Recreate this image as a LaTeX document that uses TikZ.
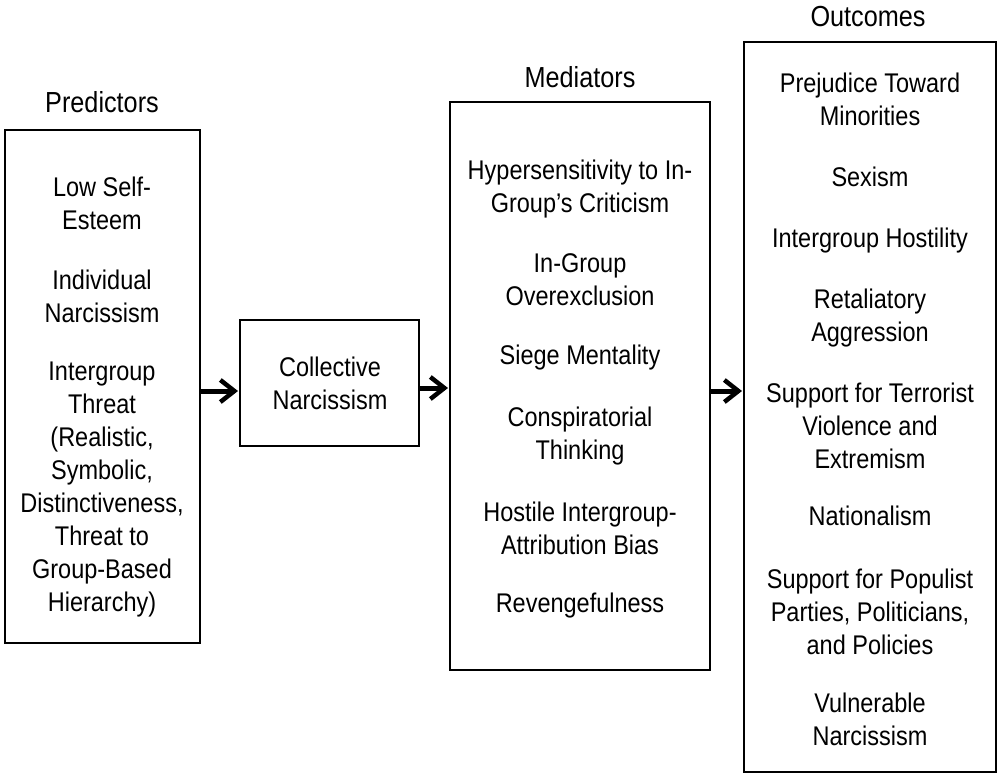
\documentclass[tikz,border=0pt]{standalone}
\usepackage{fontspec}
\setmainfont[FakeStretch=0.87]{Liberation Sans}
\usetikzlibrary{arrows.meta}

\begin{document}
\begin{tikzpicture}[
        x=1pt, y=-1pt,
        every node/.style={
            align=center,
            inner sep=0pt,
            font=\fontsize{27}{33}\selectfont
        },
        box/.style={
            draw,
            line width=2pt
        },
        title/.style={
            font=\fontsize{29}{33}\selectfont
        },
        arr/.style={
            line width=5pt,
            -{Straight Barb[length=14pt,width=22pt,line width=4.5pt]},
            shorten >=1pt
        }
    ]

        \useasboundingbox (0,0) rectangle (1000,779);

        % boxes
        \node[box, minimum width=195pt, minimum height=513pt] (pred) at (102.5,386.5) {};
        \node[box, minimum width=179pt, minimum height=126pt] (coll) at (329.5,383) {};
        \node[box, minimum width=260pt, minimum height=568pt] (med) at (580,386) {};
        \node[box, minimum width=252pt, minimum height=730pt] (out) at (870,407) {};

        % titles
        \node[title] (predtitle) at (102,102) {Predictors};
        \node[title] (medtitle) at (580,77) {Mediators};
        \node[title] (outtitle) at (868,17) {Outcomes};

        % predictors
        \node (selfesteem) at (102,203) {Low Self-\\Esteem};
        \node (indnarc) at (102,296) {Individual\\Narcissism};
        \node (threat) at (102,490) {Intergroup\\Threat\\(Realistic,\\Symbolic,\\Distinctiveness,\\Threat to\\Group-Based\\Hierarchy)};

        % collective narcissism
        \node (collnarc) at (330,383) {Collective\\Narcissism};

        % mediators
        \node (hyper) at (580,189) {Hypersensitivity to In-\\Group’s Criticism};
        \node (overex) at (580,280) {In-Group\\Overexclusion};
        \node (siege) at (580,358) {Siege Mentality};
        \node (consp) at (580,436) {Conspiratorial\\Thinking};
        \node (hostile) at (580,528) {Hostile Intergroup-\\Attribution Bias};
        \node (reveng) at (580,606) {Revengefulness};

        % outcomes
        \node (prej) at (870,99) {Prejudice Toward\\Minorities};
        \node (sexism) at (870,177) {Sexism};
        \node (hostility) at (870,241) {Intergroup Hostility};
        \node (retal) at (870,318) {Retaliatory\\Aggression};
        \node (terror) at (870,426) {Support for Terrorist\\Violence and\\Extremism};
        \node (nation) at (870,516) {Nationalism};
        \node (populist) at (870,612) {Support for Populist\\Parties, Politicians,\\and Policies};
        \node (vulnarc) at (870,719) {Vulnerable\\Narcissism};

        \draw[arr] ([yshift=-8pt]coll.west -| pred.east) -- ([yshift=-8pt]coll.west);
        \draw[arr] ([yshift=-5pt]coll.east) -- ([yshift=-5pt]coll.east -| med.west);
        \draw[arr] ([yshift=-5pt]med.east) -- ([yshift=-5pt]med.east -| out.west);

    \end{tikzpicture}
\end{document}
